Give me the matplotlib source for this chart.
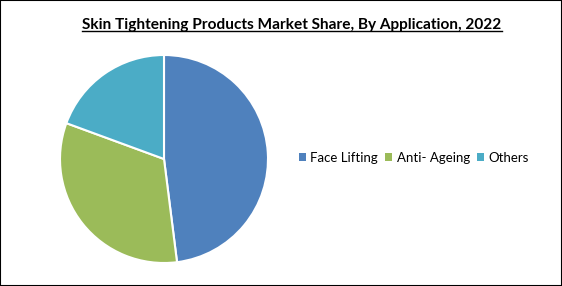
import matplotlib
matplotlib.use("Agg")
import matplotlib.pyplot as plt
from matplotlib.patches import Rectangle

labels = ["Face Lifting", "Anti- Ageing", "Others"]
shares = [48.0, 32.6, 19.4]
colors = ["#4F81BD", "#9BBB59", "#4BACC6"]

TITLE = "Skin Tightening Products Market Share, By Application, 2022"

plt.rcParams["font.family"] = ["Lato", "DejaVu Sans"]

W, H = 562, 286
fig = plt.figure(figsize=(W / 100, H / 100), dpi=100)

# pie placed by pixel centre / radius
cx, cy, r = 164, 159, 104
ax = fig.add_axes([(cx - r) / W, (H - cy - r) / H, 2 * r / W, 2 * r / H])
wedges, _ = ax.pie(shares, colors=colors, startangle=90, counterclock=False,
                   wedgeprops=dict(edgecolor="white", linewidth=1.5))
ax.set_xlim(-1, 1)
ax.set_ylim(-1, 1)
ax.set_aspect("equal")

fig.text(292 / W, 1 - 25 / H, TITLE, ha="center", va="center",
         fontsize=11.1, fontweight="bold", color="black")
# underline
tt = fig.texts[-1]
fig.canvas.draw()
bb = tt.get_window_extent()
fig.add_artist(plt.Line2D([bb.x0 / W, bb.x1 / W], [(bb.y0 + 1) / H] * 2,
                          color="black", linewidth=1, transform=fig.transFigure))

fig.legend(wedges, labels, loc="center left", bbox_to_anchor=(292 / W, 1 - 158 / H),
           ncol=3, frameon=False, fontsize=9.5, handlelength=0.55, handleheight=0.55,
           handletextpad=0.35, columnspacing=0.5, borderpad=0)
for h in fig.legends[0].legend_handles:
    h.set_edgecolor("none")

fig.add_artist(Rectangle((0, 0), 1, 1, transform=fig.transFigure, fill=False,
                         edgecolor="black", linewidth=1.5))

fig.savefig("out.png", dpi=100)
